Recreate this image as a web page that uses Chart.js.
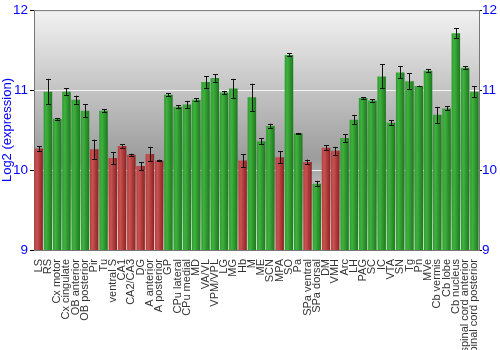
<!DOCTYPE html>
<html>
<head>
<meta charset="utf-8">
<script src="https://cdn.jsdelivr.net/npm/chart.js@4"></script>
<style>
  body { margin: 0; background: #fff; }
  #wrap { width: 500px; height: 350px; }
</style>
</head>
<body>
<div id="wrap"><canvas id="exprChart"></canvas></div>
<script>
const regions = ['LS', 'RS', 'Cx motor', 'Cx cingulate', 'OB anterior', 'OB posterior', 'Pir', 'Tu',
    'ventral S', 'CA1', 'CA2/CA3', 'DG', 'A anterior', 'A posterior', 'GP', 'CPu lateral', 'CPu medial',
    'MD', 'VA/VL', 'VPM/VPL', 'LG', 'MG', 'Hb', 'M', 'ME', 'SCN', 'MPA', 'SO', 'Pa', 'SPa ventral',
    'SPa dorsal', 'DM', 'VMH', 'Arc', 'LH', 'PAG', 'SC', 'IC', 'VTA', 'SN', 'Tg', 'Pn', 'MVe',
    'Cb vermis', 'Cb lobe', 'Cb nucleus', 'spinal cord anterior', 'spinal cord posterior'];

const means = [10.27, 10.98, 10.64, 10.98, 10.88, 10.74, 10.26, 10.74,
    10.15, 10.30, 10.19, 10.05, 10.20, 10.12, 10.94, 10.79, 10.82,
    10.88, 11.10, 11.15, 10.97, 11.02, 10.12, 10.91, 10.36, 10.55, 10.16, 11.44, 10.46, 10.10,
    9.83, 10.28, 10.24, 10.40, 10.63, 10.90, 10.87, 11.17, 10.59, 11.22, 11.11, 11.05, 11.24,
    10.69, 10.77, 11.71, 11.28, 10.98];

const errs = [0.03, 0.16, 0.01, 0.04, 0.05, 0.08, 0.12, 0.02,
    0.075, 0.02, 0.015, 0.05, 0.09, 0.01, 0.02, 0.02, 0.045,
    0.02, 0.075, 0.045, 0.02, 0.12, 0.08, 0.17, 0.04, 0.03, 0.075, 0.02, 0.005, 0.03,
    0.035, 0.03, 0.05, 0.05, 0.06, 0.01, 0.015, 0.15, 0.03, 0.075, 0.1, 0.005, 0.02,
    0.1, 0.025, 0.06, 0.015, 0.07];

// regions drawn in red, all others green
const redRegions = ['LS', 'Pir', 'ventral S', 'CA1', 'CA2/CA3', 'DG', 'A anterior', 'A posterior',
    'Hb', 'MPA', 'SPa ventral', 'DM', 'VMH'];

const yTicks = [9, 10, 11, 12];

const ctx = document.getElementById('exprChart');
const tickFont = { family: "'Liberation Sans', Arial, sans-serif", size: 13.5 };

//horizontal shading across each bar
function barFill(c) {
    const chart = c.chart;
    const xs = chart.scales.x;
    if (!xs || !chart.chartArea) return '#3a3';
    const cx = xs.getPixelForValue(c.dataIndex);
    const w = xs.width / regions.length * 0.92;
    const g = chart.ctx.createLinearGradient(cx - w / 2, 0, cx + w / 2, 0);
    if (redRegions.includes(regions[c.dataIndex])) {
        g.addColorStop(0, '#b83c3c');
        g.addColorStop(0.3, '#c85252');
        g.addColorStop(1, '#8a2222');
    } else {
        g.addColorStop(0, '#2f9a2f');
        g.addColorStop(0.3, '#3fb13f');
        g.addColorStop(1, '#1c781c');
    }
    return g;
}

const bgPlugin = {
    id: 'bg',
    beforeDraw(chart) {
        const { ctx, chartArea: a } = chart;
        const g = ctx.createLinearGradient(0, a.top, 0, a.bottom);
        g.addColorStop(0, '#f2f2f2');
        g.addColorStop(0.62, '#9c9c9c');
        g.addColorStop(1, '#ffffff');
        ctx.save();
        ctx.fillStyle = g;
        ctx.fillRect(a.left, a.top, a.right - a.left, a.bottom - a.top);
        ctx.restore();
    },
    afterDraw(chart) {
        const { ctx, chartArea: a } = chart;
        ctx.save();
        ctx.strokeStyle = '#777';
        ctx.lineWidth = 1;
        ctx.beginPath();
        ctx.moveTo(a.left, a.top + 0.5);
        ctx.lineTo(a.right, a.top + 0.5);
        ctx.stroke();
        ctx.restore();
    }
};

const errorBarPlugin = {
    id: 'errorBars',
    afterDatasetsDraw(chart) {
        const { ctx } = chart;
        const xs = chart.scales.x;
        const ys = chart.scales.y;
        ctx.save();
        ctx.strokeStyle = '#111';
        ctx.lineWidth = 1;
        means.forEach((m, i) => {
            const x = Math.round(xs.getPixelForValue(i)) + 0.5;
            const y1 = ys.getPixelForValue(m - errs[i]);
            const y2 = ys.getPixelForValue(m + errs[i]);
            ctx.beginPath();
            ctx.moveTo(x, y1);
            ctx.lineTo(x, y2);
            ctx.moveTo(x - 2.5, Math.round(y1) + 0.5);
            ctx.lineTo(x + 2.5, Math.round(y1) + 0.5);
            ctx.moveTo(x - 2.5, Math.round(y2) + 0.5);
            ctx.lineTo(x + 2.5, Math.round(y2) + 0.5);
            ctx.stroke();
        });
        ctx.restore();
    }
};

const exprChart = new Chart(ctx, {
    type: 'bar',
    data: {
        labels: regions,
        datasets: [{
            label: 'Log2 (expression)',
            data: means,
            backgroundColor: barFill,
            borderWidth: 0,
            barPercentage: 0.92,
            categoryPercentage: 1.0
        }]
    },
    options: {
        responsive: true,
        maintainAspectRatio: false,
        animation: false,
        layout: { padding: { top: 9, bottom: 0, left: 0, right: 0 } },
        plugins: {
            legend: { display: false },
            tooltip: { enabled: false }
        },
        scales: {
            x: {
                grid: { display: false },
                border: { color: '#777' },
                ticks: {
                    autoSkip: false,
                    minRotation: 90,
                    maxRotation: 90,
                    padding: 1,
                    color: '#333',
                    font: { family: "'Liberation Sans', Arial, sans-serif", size: 11 }
                },
                afterFit: s => { s.height = 100; s.paddingLeft = 0; s.paddingRight = 0; }
            },
            y: {
                min: 9,
                max: 12,
                afterBuildTicks: s => { s.ticks = yTicks.map(v => ({ value: v })); },
                grid: {
                    color: c => (c.tick.value === 9 || c.tick.value === 12) ? 'rgba(0,0,0,0)' : 'rgba(255,255,255,0.85)',
                    tickColor: '#000',
                    tickLength: 4
                },
                border: { color: '#777' },
                ticks: {
                    color: '#0000ff',
                    padding: 2,
                    font: tickFont
                },
                title: {
                    display: true,
                    text: 'Log2 (expression)',
                    color: '#0000ff',
                    padding: 0,
                    font: { family: "'Liberation Sans', Arial, sans-serif", size: 13 }
                },
                afterFit: s => { s.width = 34; }
            },
            y2: {
                position: 'right',
                min: 9,
                max: 12,
                afterBuildTicks: s => { s.ticks = yTicks.map(v => ({ value: v })); },
                grid: { drawOnChartArea: false, tickColor: '#000', tickLength: 3 },
                border: { color: '#777' },
                ticks: {
                    color: '#0000ff',
                    padding: 0,
                    font: tickFont
                },
                afterFit: s => { s.width = 21; }
            }
        }
    },
    plugins: [bgPlugin, errorBarPlugin]
});
</script>
</body>
</html>
